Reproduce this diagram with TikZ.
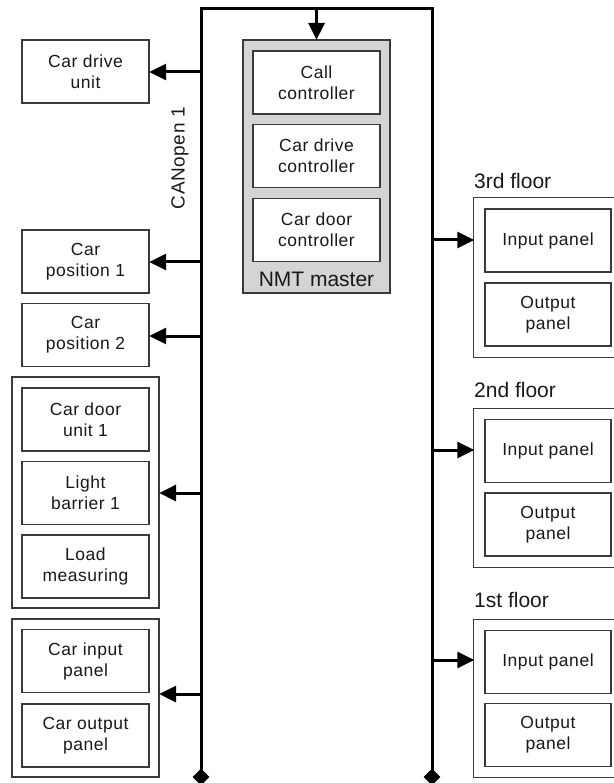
\documentclass[tikz,border=0pt]{standalone}
\usepackage{fontspec}
\setmainfont{Liberation Sans}
\newfontfamily\boxfont[LetterSpace=3]{Liberation Sans}
\usetikzlibrary{arrows.meta,shapes.geometric}
\definecolor{boxline}{HTML}{3A3A3A}
\definecolor{nmtfill}{HTML}{D4D4D4}
\tikzset{
  unitbox/.style={draw=boxline, line width=1.4pt, fill=white, minimum width=127pt, minimum height=63pt, inner sep=0pt, align=center, font=\boxfont\fontsize{17.5}{21}\selectfont, text=black!90},
  groupbox/.style={draw=boxline, line width=1.2pt, inner sep=0pt},
  openbox/.style={draw=none, inner sep=0pt},
  busline/.style={line width=3pt, black},
  arr/.style={line width=3pt, -{Triangle[length=17pt,width=16pt]}, shorten >=-0.5pt},
  lbl/.style={font=\fontsize{21}{25}\selectfont, inner sep=0pt, text=black!90},
  endmark/.style={diamond, fill=black, inner sep=0pt, minimum size=17pt}
}
\begin{document}
\begin{tikzpicture}[x=1pt,y=-1pt]
\useasboundingbox (0,0) rectangle (613,783);

% NMT master
\node[groupbox, fill=nmtfill, minimum width=147pt, minimum height=253pt] (nmt) at (316.5,166.5) {};
\node[unitbox] (cc) at (316.5,82.5) {Call\\controller};
\node[unitbox] (cdc) at (316.5,156) {Car drive\\controller};
\node[unitbox] (cdoc) at (316.5,230) {Car door\\controller};
\node[lbl] (nmtl) at (316.5,279) {NMT master};

% bus lines
\coordinate (lt) at (201,9);
\coordinate (rt) at (432,9);
\coordinate (lb) at (201,777);
\coordinate (rb) at (432,777);
\draw[busline, line join=miter] (lb) -- (lt) -- (rt) -- (rb);
\node[endmark] (dl) at (lb) {};
\node[endmark] (dr) at (rb) {};
\coordinate (top) at (316.5,9);
\draw[arr] (top) -- (nmt.north);

\node[lbl, rotate=90, font=\boxfont\fontsize{19}{22}\selectfont] (can) at (180,158) {CANopen 1};

% left side
\node[unitbox] (cdu) at (85.5,71.5) {Car drive\\unit};
\node[unitbox] (cp1) at (85.5,261.5) {Car\\position 1};
\node[unitbox] (cp2) at (85.5,335) {Car\\position 2};

\node[groupbox, minimum width=147pt, minimum height=231pt] (g1) at (85.5,492.5) {};
\node[unitbox] (cdoor) at (85.5,419.5) {Car door\\unit 1};
\node[unitbox] (lbar) at (85.5,493) {Light\\barrier 1};
\node[unitbox] (lm) at (85.5,566.5) {Load\\measuring};

\node[groupbox, minimum width=147pt, minimum height=158pt] (g2) at (85.5,698) {};
\node[unitbox] (cin) at (85.5,661) {Car input\\panel};
\node[unitbox] (cout) at (85.5,735.5) {Car output\\panel};

\coordinate (b1) at (201,72);
\coordinate (b2) at (201,262);
\coordinate (b3) at (201,336);
\coordinate (b4) at (201,493);
\coordinate (b5) at (201,694);
\draw[arr] (b1) -- (b1 -| cdu.east);
\draw[arr] (b2) -- (b2 -| cp1.east);
\draw[arr] (b3) -- (b3 -| cp2.east);
\draw[arr] (b4) -- (b4 -| g1.east);
\draw[arr] (b5) -- (b5 -| g2.east);

% right side
\node[openbox, minimum width=150pt, minimum height=159pt] (f3) at (549,277.5) {};
\draw[groupbox] (f3.north east) -- (f3.north west) -- (f3.south west) -- (f3.south east);
\node[lbl, anchor=west] (f3l) at (474,181) {3rd floor};
\node[unitbox, minimum width=126pt] (f3in) at (548,240.5) {Input panel};
\node[unitbox, minimum width=126pt] (f3out) at (548,314.5) {Output\\panel};

\node[openbox, minimum width=150pt, minimum height=158pt] (f2) at (549,488) {};
\draw[groupbox] (f2.north east) -- (f2.north west) -- (f2.south west) -- (f2.south east);
\node[lbl, anchor=west] (f2l) at (474,390) {2nd floor};
\node[unitbox, minimum width=126pt] (f2in) at (548,451) {Input panel};
\node[unitbox, minimum width=126pt] (f2out) at (548,524.5) {Output\\panel};

\node[openbox, minimum width=150pt, minimum height=157pt] (f1) at (549,698.5) {};
\draw[groupbox] (f1.north east) -- (f1.north west) -- (f1.south west) -- (f1.south east);
\node[lbl, anchor=west] (f1l) at (474,600) {1st floor};
\node[unitbox, minimum width=126pt] (f1in) at (548,662) {Input panel};
\node[unitbox, minimum width=126pt] (f1out) at (548,735) {Output\\panel};

\coordinate (r3) at (432,240);
\coordinate (r2) at (432,450);
\coordinate (r1) at (432,660);
\draw[arr] (r3) -- (r3 -| f3.west);
\draw[arr] (r2) -- (r2 -| f2.west);
\draw[arr] (r1) -- (r1 -| f1.west);
\end{tikzpicture}
\end{document}
